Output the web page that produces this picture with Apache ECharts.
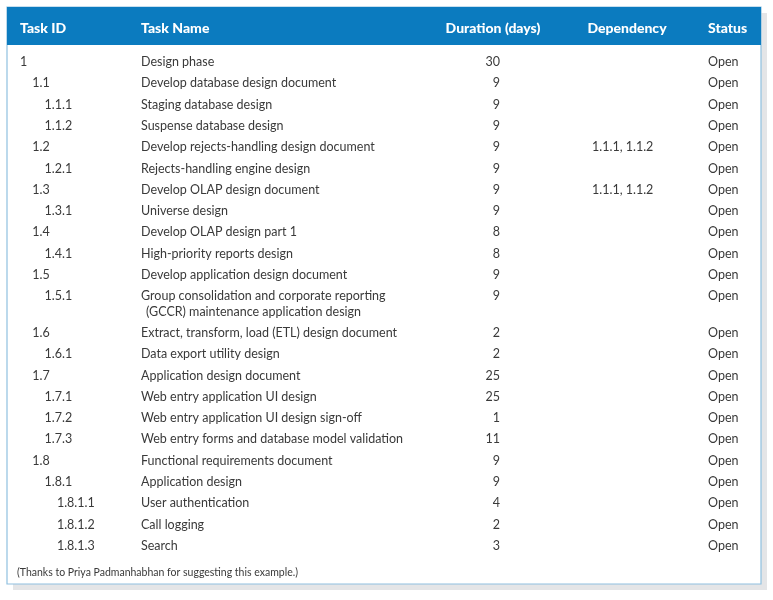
<!DOCTYPE html>
<html>
<head>
<meta charset="utf-8">
<script src="https://cdn.jsdelivr.net/npm/echarts@6/dist/echarts.min.js"></script>
<style>html,body{margin:0;padding:0;background:#fff}#c{width:773px;height:600px}</style>
</head>
<body>
<div id="c"></div>
<script>
// ---- data ----
const columnHeaders = ['Task ID', 'Task Name', 'Duration (days)', 'Dependency', 'Status'];
const taskIds = ['1','1.1','1.1.1','1.1.2','1.2','1.2.1','1.3','1.3.1','1.4','1.4.1','1.5','1.5.1',
  '1.6','1.6.1','1.7','1.7.1','1.7.2','1.7.3','1.8','1.8.1','1.8.1.1','1.8.1.2','1.8.1.3'];
const taskNames = [
  'Design phase',
  'Develop database design document',
  'Staging database design',
  'Suspense database design',
  'Develop rejects-handling design document',
  'Rejects-handling engine design',
  'Develop OLAP design document',
  'Universe design',
  'Develop OLAP design part 1',
  'High-priority reports design',
  'Develop application design document',
  'Group consolidation and corporate reporting\n(GCCR) maintenance application design',
  'Extract, transform, load (ETL) design document',
  'Data export utility design',
  'Application design document',
  'Web entry application UI design',
  'Web entry application UI design sign-off',
  'Web entry forms and database model validation',
  'Functional requirements document',
  'Application design',
  'User authentication',
  'Call logging',
  'Search'
];
const durations = [30,9,9,9,9,9,9,9,8,8,9,9,2,2,25,25,1,11,9,9,4,2,3];
const dependencies = ['','','','','1.1.1, 1.1.2','','1.1.1, 1.1.2','','','','','','','','','','','','','','','',''];
const statuses = ['Open','Open','Open','Open','Open','Open','Open','Open','Open','Open','Open','Open',
  'Open','Open','Open','Open','Open','Open','Open','Open','Open','Open','Open'];
const footnote = '(Thanks to Priya Padmanhabhan for suggesting this example.)';

// ---- layout / style ----
const W = 773, H = 600;
const FONT = 'Lato, "Noto Sans", sans-serif';
const TEXT = '#3a3a3a';
const BLUE = '#0b7bbf';
const ROW_H = 21.3;         // px per row
const LINE_RATIO = 0.72;    // extra line height in row units
const FIRST_ROW_Y = 62;
const box = { x: 7, y: 7, w: 754, h: 577, headerH: 38 };
const cols = {
  id:   { x: 20, indent: 12.3, align: 'left' },
  name: { x: 141, align: 'left', contIndent: 5 },
  dur:  { x: 500, align: 'right', headX: 493, headAlign: 'center' },
  dep:  { x: 592, align: 'left', headX: 627, headAlign: 'center' },
  stat: { x: 708, align: 'left' }
};
const headerX = [cols.id.x, cols.name.x, cols.dur.headX, cols.dep.headX, cols.stat.x];
const headerAlign = ['left', 'left', 'center', 'center', 'left'];

// row positions in row units (multi-line names take extra space)
let acc = 0;
const rowPos = taskNames.map(n => { const p = acc; acc += 1 + (n.split('\n').length - 1) * LINE_RATIO; return p; });
const yMin = -0.5, yMax = acc - 0.5;
const gridTop = FIRST_ROW_Y - 0.5 * ROW_H;
const gridH = (yMax - yMin) * ROW_H;

function textSeries(name, values, xFn, align, spacing) {
  return {
    type: 'custom', name: name, coordinateSystem: 'cartesian2d', silent: true,
    data: values.map((v, i) => [rowPos[i], i]),
    encode: { y: 0, x: 1 },
    renderItem: function (params, api) {
      const i = api.value(1);
      const txt = String(values[i]);
      if (!txt) return null;
      const lines = txt.split('\n');
      const children = lines.map((ln, k) => {
        const pt = api.coord([xFn(i, k), rowPos[i] + k * LINE_RATIO]);
        return {
          type: 'text',
          style: { text: ln, x: pt[0], y: pt[1], fill: TEXT, font: '12.5px ' + FONT,
                   textAlign: align, textVerticalAlign: 'middle' }
        };
      });
      return { type: 'group', children: children };
    }
  };
}

const graphics = [
  // shadow
  { type: 'rect', shape: { x: box.x + 6, y: box.y + 6, width: box.w, height: box.h }, style: { fill: '#e4e5e7' }, z: 0 },
  // body
  { type: 'rect', shape: { x: box.x, y: box.y, width: box.w, height: box.h }, style: { fill: '#fff', stroke: '#8fc0e0', lineWidth: 1.2 }, z: 1 },
  // header
  { type: 'rect', shape: { x: box.x, y: box.y, width: box.w, height: box.headerH }, style: { fill: BLUE }, z: 2 }
];
columnHeaders.forEach((h, k) => {
  graphics.push({
    type: 'text', z: 3,
    style: { text: h, x: headerX[k], y: box.y + box.headerH / 2 + 2, fill: '#fff',
             font: '900 14px ' + FONT, textAlign: headerAlign[k], textVerticalAlign: 'middle' }
  });
});
graphics.push({
  type: 'text', z: 3,
  style: { text: footnote, x: 17, y: 573, fill: TEXT, font: '10.5px ' + FONT, textAlign: 'left', textVerticalAlign: 'middle' }
});

const chart = echarts.init(document.getElementById('c'), null, { renderer: 'canvas' });
chart.setOption({
  animation: false,
  backgroundColor: '#fff',
  graphic: graphics,
  grid: { left: 0, right: 0, top: gridTop, height: gridH, containLabel: false },
  xAxis: { type: 'value', min: 0, max: W, show: false },
  yAxis: { type: 'value', min: yMin, max: yMax, inverse: true, show: false },
  series: [
    textSeries('Task ID', taskIds, (i) => cols.id.x + (taskIds[i].split('.').length - 1) * cols.id.indent, 'left'),
    textSeries('Task Name', taskNames, (i, k) => cols.name.x + (k > 0 ? cols.name.contIndent : 0), 'left'),
    textSeries('Duration (days)', durations, () => cols.dur.x, 'right'),
    textSeries('Dependency', dependencies, () => cols.dep.x, 'left'),
    textSeries('Status', statuses, () => cols.stat.x, 'left')
  ].map(s => Object.assign(s, { z: 5 }))
});
</script>
</body>
</html>
